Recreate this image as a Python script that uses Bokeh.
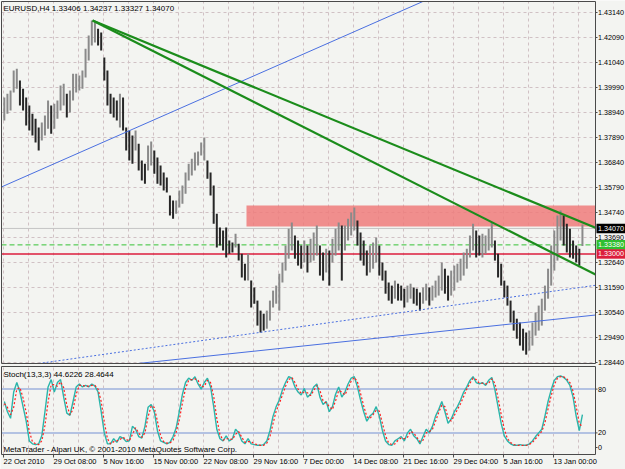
import numpy as np
from bokeh.plotting import figure
from bokeh.models import Range1d
from bokeh.embed import file_html
from bokeh.resources import INLINE
from bokeh.core.properties import value

# ---------------- data ----------------
symbol = "EURUSD,H4"
last_ohlc = [1.33406, 1.34237, 1.33327, 1.34070]

# highs / lows of consecutive pairs of H4 bars (8 hours each)
bar_high = [1.3957,1.3973,1.3986,1.4070,1.4078,1.4028,1.3994,1.3957,1.3923,1.3889,
            1.3868,1.3831,1.3852,1.3881,1.3944,1.3923,1.3931,1.3944,1.4007,1.4015,
            1.3973,1.3986,1.4057,1.4057,1.4049,1.4070,1.4162,1.4217,1.4280,1.4272,
            1.4246,1.4230,1.4125,1.4070,1.3973,1.3957,1.3944,1.3973,1.3957,1.3831,
            1.3818,1.3797,1.3818,1.3763,1.3692,1.3679,1.3755,1.3772,1.3734,1.3705,
            1.3671,1.3642,1.3621,1.3545,1.3524,1.3524,1.3566,1.3587,1.3642,1.3679,
            1.3700,1.3726,1.3730,1.3768,1.3789,1.3692,1.3642,1.3587,1.3469,1.3411,
            1.3398,1.3411,1.3356,1.3348,1.3385,1.3343,1.3301,1.3259,1.3301,1.3188,
            1.3159,1.3104,1.3062,1.3049,1.3062,1.3104,1.3146,1.3167,1.3217,1.3264,
            1.3335,1.3406,1.3432,1.3377,1.3356,1.3335,1.3356,1.3335,1.3364,1.3390,
            1.3419,1.3335,1.3306,1.3322,1.3314,1.3364,1.3406,1.3432,1.3419,1.3419,
            1.3448,1.3474,1.3495,1.3440,1.3390,1.3356,1.3314,1.3335,1.3348,1.3369,
            1.3335,1.3264,1.3230,1.3180,1.3167,1.3188,1.3175,1.3167,1.3154,1.3167,
            1.3175,1.3159,1.3154,1.3138,1.3159,1.3175,1.3159,1.3167,1.3188,1.3209,
            1.3264,1.3238,1.3209,1.3230,1.3251,1.3259,1.3280,1.3306,1.3322,1.3377,
            1.3427,1.3398,1.3377,1.3385,1.3377,1.3406,1.3432,1.3356,1.3301,1.3259,
            1.3188,1.3167,1.3104,1.3062,1.3028,1.3012,1.2986,1.2970,1.2978,1.3012,
            1.3054,1.3083,1.3112,1.3167,1.3238,1.3335,1.3398,1.3461,1.3482,1.3461,
            1.3427,1.3406,1.3356,1.3335,1.3322,1.3424]
bar_low = [1.3860,1.3889,1.3902,1.3978,1.3994,1.3923,1.3902,1.3839,1.3818,1.3797,
           1.3768,1.3734,1.3776,1.3797,1.3826,1.3805,1.3826,1.3868,1.3902,1.3923,
           1.3873,1.3894,1.3944,1.3978,1.3986,1.3994,1.4041,1.4112,1.4175,1.4188,
           1.4175,1.4154,1.4028,1.3923,1.3889,1.3873,1.3860,1.3831,1.3818,1.3734,
           1.3692,1.3679,1.3734,1.3650,1.3608,1.3595,1.3650,1.3671,1.3637,1.3595,
           1.3587,1.3566,1.3558,1.3461,1.3448,1.3469,1.3495,1.3511,1.3553,1.3608,
           1.3629,1.3650,1.3671,1.3713,1.3692,1.3616,1.3545,1.3427,1.3327,1.3335,
           1.3314,1.3285,1.3301,1.3306,1.3327,1.3272,1.3201,1.3188,1.3188,1.3075,
           1.3091,1.2999,1.2970,1.2978,1.2986,1.3020,1.3075,1.3091,1.3062,1.3180,
           1.3230,1.3280,1.3314,1.3280,1.3251,1.3238,1.3264,1.3222,1.3264,1.3272,
           1.3293,1.3209,1.3188,1.3222,1.3167,1.3264,1.3293,1.3314,1.3188,1.3314,
           1.3356,1.3377,1.3398,1.3335,1.3272,1.3251,1.3209,1.3222,1.3238,1.3264,
           1.3209,1.3188,1.3133,1.3104,1.3091,1.3112,1.3104,1.3104,1.3075,1.3096,
           1.3112,1.3091,1.3083,1.3062,1.3091,1.3104,1.3083,1.3104,1.3117,1.3125,
           1.3146,1.3133,1.3104,1.3125,1.3146,1.3180,1.3188,1.3209,1.3238,1.3285,
           1.3314,1.3285,1.3293,1.3285,1.3301,1.3314,1.3327,1.3272,1.3201,1.3167,
           1.3117,1.3083,1.3012,1.2978,1.2944,1.2915,1.2894,1.2877,1.2894,1.2915,
           1.2957,1.2978,1.2999,1.3062,1.3112,1.3167,1.3230,1.3272,1.3356,1.3335,
           1.3306,1.3285,1.3280,1.3264,1.3251,1.3333]

stoch_name = "Stoch(13,3,3)"
stoch_last = [44.6226, 28.4644]
stoch_main = [63,49,40,76,89,76,56,36,9,5, 4,5,16,49,83,93,76,89,93,69,
              47,44,63,83,87,83,85,83,87,84, 76,49,20,5,5,12,7,15,13,8,
              9,29,25,15,13,29,55,59,49,23, 9,7,5,7,15,27,49,73,89,95,
              92,97,87,80,89,95,83,56,25,12, 9,16,9,12,25,20,9,5,12,5,
              4,3,3,4,9,23,43,56,65,79, 89,97,95,83,76,72,81,69,73,83,
              87,69,59,63,49,56,73,83,69,76, 87,95,97,83,65,49,36,43,47,56,
              43,23,9,4,3,9,12,15,9,20, 25,16,12,5,15,25,20,29,43,52,
              63,49,33,39,49,56,65,76,83,92, 97,89,87,89,85,92,96,79,56,33,
              16,9,5,3,3,4,3,3,5,9, 15,20,25,43,63,79,92,97,98,96,
              92,85,69,43,23,45]
stoch_signal = [60,55,45,55,80,82,68,48,22,8, 5,4,9,30,62,86,86,84,90,82,
                58,45,52,73,85,85,84,84,85,85, 80,63,35,12,5,8,9,11,14,11,
                9,18,27,20,14,20,42,57,55,36, 16,8,6,6,10,21,38,61,81,92,
                93,94,92,83,84,92,89,70,40,18, 10,12,12,11,18,22,14,7,8,8,
                5,4,3,3,6,15,33,50,60,72, 84,93,96,89,80,74,76,75,71,78,
                85,78,64,61,56,52,64,78,76,72, 81,91,96,90,74,57,42,40,45,51,
                50,33,16,6,4,5,10,13,12,14, 22,20,14,8,10,20,22,25,36,48,
                58,56,41,36,44,52,60,70,80,88, 95,93,88,88,87,88,94,88,68,45,
                25,12,7,4,3,3,3,3,4,7, 12,17,22,34,53,71,86,95,97,97,
                94,89,77,56,33,28]
stoch_levels = [20, 80]
stoch_scale_ticks = [0, 20, 80]

price_ticks = [1.28440, 1.29490, 1.30540, 1.31590, 1.32640, 1.33690, 1.34740, 1.35790,
               1.36840, 1.37890, 1.38940, 1.39990, 1.41040, 1.42090, 1.43140]
date_tick_bars = [0, 32, 64, 96, 128, 160, 192, 224, 256, 288, 320, 352]
date_labels = ["22 Oct 2010", "29 Oct 08:00", "5 Nov 16:00", "15 Nov 00:00", "22 Nov 08:00",
               "29 Nov 16:00", "7 Dec 00:00", "14 Dec 08:00", "21 Dec 16:00", "29 Dec 04:00",
               "5 Jan 16:00", "13 Jan 00:00"]
grid_bars = list(range(0, 369, 16))

# drawn objects: (bar, price) anchors
green_trend_a = [(57, 1.4280), (356.5, 1.3470)]
green_trend_b = [(57, 1.4280), (311.7, 1.3436)]
blue_line_up = [(42.9, 1.3709), (254.1, 1.4319)]
blue_line_low = [(145.3, 1.2881), (273.3, 1.2970)]
blue_dotted = [(145.3, 1.2953), (273.3, 1.3071)]
zone_start_bar = 155.5
zone_bottom, zone_top = 1.3415, 1.3503
level_green = 1.33380
level_red = 1.33000
bid_price = 1.34070

# ---------------- layout (pixel geometry of the MT4 window) ----------------
W, H = 625, 469
PX_PER_BAR = 1.5625
BAR0_SX = 3.03


def bar_at(sx):
    return (sx - BAR0_SX) / PX_PER_BAR


def price_at(sy):
    return 1.43644 - sy * 0.00042


def stoch_at(sy):
    return (447.0 - sy) / 0.73


XL, XA = bar_at(1), bar_at(595)           # chart panel left / price scale line
M_TOP, M_BOT = price_at(1), price_at(363)  # main panel
S_TOP, S_BOT = stoch_at(366), stoch_at(454)  # stochastic panel

BG = "#f3f4f1"
GRID = "#d0c1c4"
EDGE = "#4a4a4a"
FONT = "Liberation Sans"
FS = "7.5px"
FS_SCALE = "7.2px"

p = figure(width=W, height=H, x_range=Range1d(bar_at(0), bar_at(W)),
           y_range=Range1d(price_at(H), price_at(0)),
           output_backend="svg", toolbar_location=None,
           x_axis_location=None, y_axis_location=None,
           min_border_left=0, min_border_right=0, min_border_top=0, min_border_bottom=0,
           background_fill_color=BG, border_fill_color=BG)
p.extra_y_ranges = {"st": Range1d(stoch_at(H), stoch_at(0))}
p.outline_line_color = None
p.xgrid.visible = False
p.ygrid.visible = False
p.min_border = 0

# ---- grids ----
p.segment(x0=[XL] * len(price_ticks), y0=price_ticks, x1=[XA] * len(price_ticks), y1=price_ticks,
          line_color=GRID, line_dash="3 3", line_width=1)
p.segment(x0=grid_bars, y0=[M_BOT] * len(grid_bars), x1=grid_bars, y1=[M_TOP] * len(grid_bars),
          line_color=GRID, line_dash="3 3", line_width=1)
p.segment(x0=grid_bars, y0=[S_BOT] * len(grid_bars), x1=grid_bars, y1=[S_TOP] * len(grid_bars),
          line_color=GRID, line_dash="3 3", line_width=1, y_range_name="st")

# ---- zone rectangle ----
p.quad(left=[zone_start_bar], right=[XA], bottom=[zone_bottom], top=[zone_top],
       fill_color="#ef7b7b", fill_alpha=0.85, line_color=None)

# ---- horizontal levels ----
p.segment(x0=[XL], y0=[bid_price], x1=[XA], y1=[bid_price], line_color="#c4c4c4", line_width=1)
p.segment(x0=[XL], y0=[level_green], x1=[XA], y1=[level_green], line_color="#36c236",
          line_width=1, line_dash="5 3")
p.segment(x0=[XL], y0=[level_red], x1=[XA], y1=[level_red], line_color="#dc1e3c", line_width=1.6)

# ---- price bars ----
hi = np.array(bar_high)
lo = np.array(bar_low)
bx = np.arange(len(hi)) * 2 + 0.5
mid = (hi + lo) / 2
prev = np.concatenate([[mid[0]], mid[:-1]])
cols = np.where(mid < prev, "#262626", "#8a8a8a")
p.segment(x0=bx, y0=lo, x1=bx, y1=hi, line_color=list(cols), line_width=2)


def clipped(anchors, start_at_first=False):
    (xa, ya), (xb, yb) = anchors
    s = (yb - ya) / (xb - xa)
    t0 = xa if start_at_first else XL
    t1 = XA
    xa_b = xa + (M_BOT - ya) / s
    xa_t = xa + (M_TOP - ya) / s
    t0 = max(t0, min(xa_b, xa_t))
    t1 = min(t1, max(xa_b, xa_t))
    return [t0, t1], [ya + s * (t0 - xa), ya + s * (t1 - xa)]


for a in (blue_line_up, blue_line_low):
    xs, ys = clipped(a)
    p.line(xs, ys, line_color="#4a6fe0", line_width=1)
xs, ys = clipped(blue_dotted)
p.line(xs, ys, line_color="#4a6fe0", line_width=1, line_dash="2 2")
for a in (green_trend_a, green_trend_b):
    xs, ys = clipped(a, start_at_first=True)
    p.line(xs, ys, line_color="#1b8c1b", line_width=2.2)

# ---- stochastic ----
for lv in stoch_levels:
    p.segment(x0=[XL], y0=[lv], x1=[XA], y1=[lv], line_color="#b3c2e2", line_width=2,
              y_range_name="st")
sx = np.arange(len(stoch_main)) * 2 + 0.5
p.line(sx, stoch_main, line_color="#2ab5aa", line_width=1.4, y_range_name="st")
p.line(sx, stoch_signal, line_color="#ff2020", line_width=1.2, line_dash="2 2", y_range_name="st")

# ---- panel frames ----
p.quad(left=[XL], right=[XA], bottom=[M_BOT], top=[M_TOP], fill_color=None,
       line_color=EDGE, line_width=1)
p.quad(left=[XL], right=[XA], bottom=[S_BOT], top=[S_TOP], fill_color=None,
       line_color=EDGE, line_width=1, y_range_name="st")

# ---- price scale ----
tick_len = 2 / PX_PER_BAR
lab_x = XA + 2.5 / PX_PER_BAR
p.segment(x0=[XA] * len(price_ticks), y0=price_ticks, x1=[XA + tick_len] * len(price_ticks),
          y1=price_ticks, line_color=EDGE, line_width=1)
p.text(x=[lab_x] * len(price_ticks), y=price_ticks, text=["%.5f" % t for t in price_ticks],
       text_align="left", text_baseline="middle", text_font=value(FONT), text_font_size=FS_SCALE,
       text_color="black")
box_h = 0.00200
for price, bg in ((bid_price, "#000000"), (level_green, "#2fbf2f"), (level_red, "#dc1e3c")):
    p.quad(left=[XA + 1 / PX_PER_BAR], right=[bar_at(W + 2)], bottom=[price - box_h],
           top=[price + box_h], fill_color=bg, line_color=None)
    p.text(x=[lab_x], y=[price], text=["%.5f" % price], text_align="left",
           text_baseline="middle", text_font=value(FONT), text_font_size=FS_SCALE,
           text_color="white")

# ---- stochastic scale ----
p.segment(x0=[XA] * 3, y0=stoch_scale_ticks, x1=[XA + tick_len] * 3, y1=stoch_scale_ticks,
          line_color=EDGE, line_width=1, y_range_name="st")
p.text(x=[lab_x] * 3, y=stoch_scale_ticks, text=[str(t) for t in stoch_scale_ticks],
       text_align="left", text_baseline="middle", text_font=value(FONT), text_font_size=FS_SCALE,
       text_color="black", y_range_name="st")

# ---- time scale ----
n = len(date_tick_bars)
p.segment(x0=date_tick_bars, y0=[S_BOT] * n, x1=date_tick_bars, y1=[stoch_at(457)] * n,
          line_color=EDGE, line_width=1, y_range_name="st")
p.text(x=date_tick_bars, y=[stoch_at(456)] * n, text=date_labels, text_align="left",
       text_baseline="top", text_font=value(FONT), text_font_size=FS, text_color="black",
       y_range_name="st")

# ---- captions ----
header = "%s  %s" % (symbol, " ".join("%.5f" % v for v in last_ohlc))
p.text(x=[XL + 1.2], y=[M_TOP], text=[header], text_baseline="top", y_offset=2,
       text_font=value(FONT), text_font_size="8px", text_color="black")
p.text(x=[XL + 1.2], y=[S_TOP], text=["%s %.4f %.4f" % (stoch_name, stoch_last[0], stoch_last[1])],
       text_baseline="top", y_offset=3, text_font=value(FONT), text_font_size="8px",
       text_color="black", y_range_name="st")
p.text(x=[XL + 1.2], y=[S_BOT], text=["MetaTrader - Alpari UK, \u00a9 2001-2010 MetaQuotes Software Corp."],
       text_baseline="bottom", y_offset=-1, text_font=value(FONT), text_font_size="8px",
       text_color="black", y_range_name="st")

open("out.html", "w").write(file_html(p, INLINE))
